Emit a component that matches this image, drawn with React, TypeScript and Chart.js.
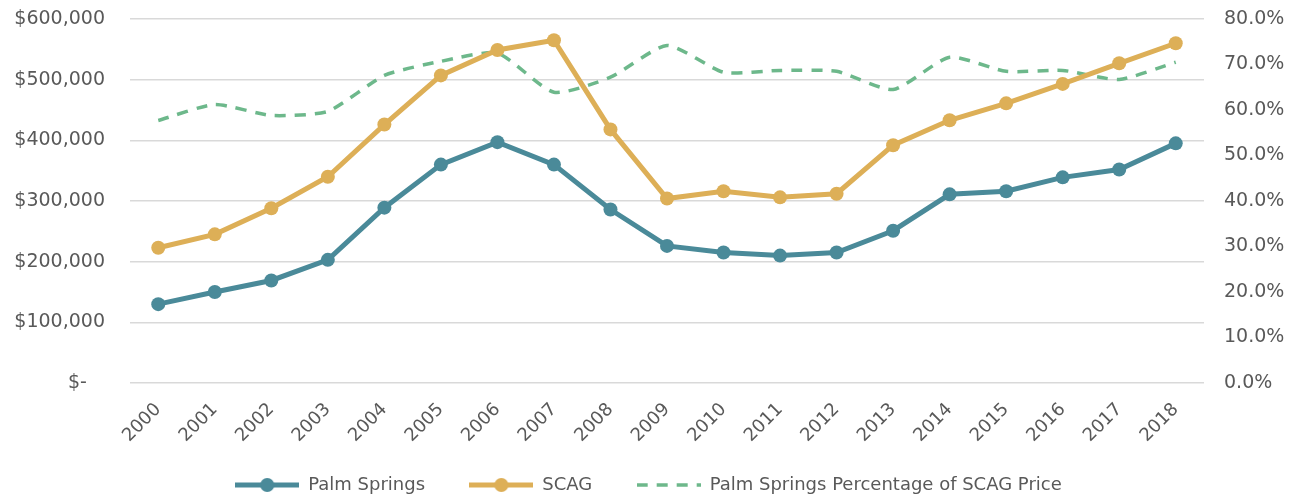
import React, { useEffect, useRef } from "react";
import { Chart, registerables } from "chart.js";

Chart.register(...registerables);

const years = ["2000","2001","2002","2003","2004","2005","2006","2007","2008","2009","2010","2011","2012","2013","2014","2015","2016","2017","2018"];
const palmSprings = [130000,150000,169000,203000,289000,360000,397000,360000,286000,226000,215000,210000,215000,251000,311000,316000,339000,352000,395000];
const scag = [223000,245000,288000,340000,426000,507000,549000,565000,418000,304000,316000,306000,312000,392000,433000,461000,493000,527000,560000];
const pctOfScag = [0.577,0.612,0.588,0.597,0.676,0.707,0.725,0.639,0.672,0.742,0.683,0.687,0.685,0.645,0.716,0.685,0.687,0.667,0.705];

const TEAL = "#4A8A99";
const GOLD = "#DDAF57";
const GREEN = "#6DB88B";
const TEXT = "#595959";
const FONT = "'DejaVu Sans', sans-serif";

function makeIcon(color: string, dashed: boolean): HTMLCanvasElement {
  const c = document.createElement("canvas");
  c.width = 64;
  c.height = 16;
  const ctx = c.getContext("2d")!;
  ctx.strokeStyle = color;
  ctx.lineWidth = dashed ? 3.5 : 5;
  if (dashed) ctx.setLineDash([11, 9]);
  ctx.beginPath();
  ctx.moveTo(0, 8);
  ctx.lineTo(64, 8);
  ctx.stroke();
  if (!dashed) {
    ctx.fillStyle = color;
    ctx.beginPath();
    ctx.arc(32, 8, 7, 0, Math.PI * 2);
    ctx.fill();
  }
  return c;
}

export default function App() {
  const ref = useRef<HTMLCanvasElement | null>(null);
  useEffect(() => {
    if (!ref.current) return;
    const icons = [makeIcon(TEAL, false), makeIcon(GOLD, false), makeIcon(GREEN, true)];
    const names = ["Palm Springs", "SCAG", "Palm Springs Percentage of SCAG Price"];
    const chart = new Chart(ref.current, {
      type: "line",
      data: {
        labels: years,
        datasets: [
          {
            label: names[0],
            data: palmSprings,
            borderColor: TEAL,
            backgroundColor: TEAL,
            borderWidth: 5,
            pointRadius: 7,
            pointBackgroundColor: TEAL,
            pointBorderWidth: 0,
            yAxisID: "y",
            order: 2,
          },
          {
            label: names[1],
            data: scag,
            borderColor: GOLD,
            backgroundColor: GOLD,
            borderWidth: 5,
            pointRadius: 7,
            pointBackgroundColor: GOLD,
            pointBorderWidth: 0,
            yAxisID: "y",
            order: 1,
          },
          {
            label: names[2],
            data: pctOfScag,
            borderColor: GREEN,
            backgroundColor: GREEN,
            borderWidth: 3.5,
            borderDash: [11, 9],
            pointRadius: 0,
            tension: 0.2,
            yAxisID: "y1",
            order: 3,
          },
        ],
      },
      options: {
        animation: false,
        responsive: true,
        maintainAspectRatio: false,
        layout: { padding: { top: 19, bottom: -7, left: 0, right: 0 } },
        plugins: {
          tooltip: { enabled: false },
          legend: {
            position: "bottom",
            labels: {
              usePointStyle: true,
              pointStyleWidth: 64,
              color: TEXT,
              font: { family: FONT, size: 18 },
              padding: 10,
              generateLabels: (ch: any) =>
                ch.data.datasets.map((ds: any, i: number) => ({
                  text: ds.label + (i < 2 ? "      " : ""),
                  pointStyle: icons[i],
                  fillStyle: ds.borderColor,
                  strokeStyle: ds.borderColor,
                  lineWidth: 0,
                  hidden: false,
                  datasetIndex: i,
                  fontColor: TEXT,
                })),
            },
          },
        },
        scales: {
          x: {
            offset: true,
            grid: { display: false },
            border: { display: false },
            ticks: {
              color: TEXT,
              font: { family: FONT, size: 18 },
              maxRotation: 45,
              minRotation: 45,
              padding: 8,
              autoSkip: false,
            },
            afterFit: (s: any) => {
              s.height = 83;
            },
          },
          y: {
            position: "left",
            min: 0,
            max: 600000,
            grid: { color: "#D9D9D9", lineWidth: 1.5, drawTicks: true, tickLength: 25, tickColor: "rgba(0,0,0,0)" },
            border: { display: false },
            ticks: {
              stepSize: 100000,
              color: TEXT,
              padding: 0,
              font: { family: FONT, size: 19 },
              callback: (v: any) => (v === 0 ? "$-   " : "$" + Number(v).toLocaleString("en-US")),
            },
            afterFit: (s: any) => {
              s.width = 130;
            },
          },
          y1: {
            position: "right",
            min: 0,
            max: 0.8,
            grid: { drawOnChartArea: false, drawTicks: true, tickLength: 20, tickColor: "rgba(0,0,0,0)" },
            border: { display: false },
            ticks: {
              stepSize: 0.1,
              color: TEXT,
              padding: 0,
              font: { family: FONT, size: 19 },
              callback: (v: any) => (Number(v) * 100).toFixed(1) + "%",
            },
            afterFit: (s: any) => {
              s.width = 93;
            },
          },
        },
      },
    });
    return () => chart.destroy();
  }, []);
  return (
    <div style={{ position: "absolute", left: 0, top: 0, width: 1297, height: 497 }}>
      <canvas ref={ref} />
    </div>
  );
}
